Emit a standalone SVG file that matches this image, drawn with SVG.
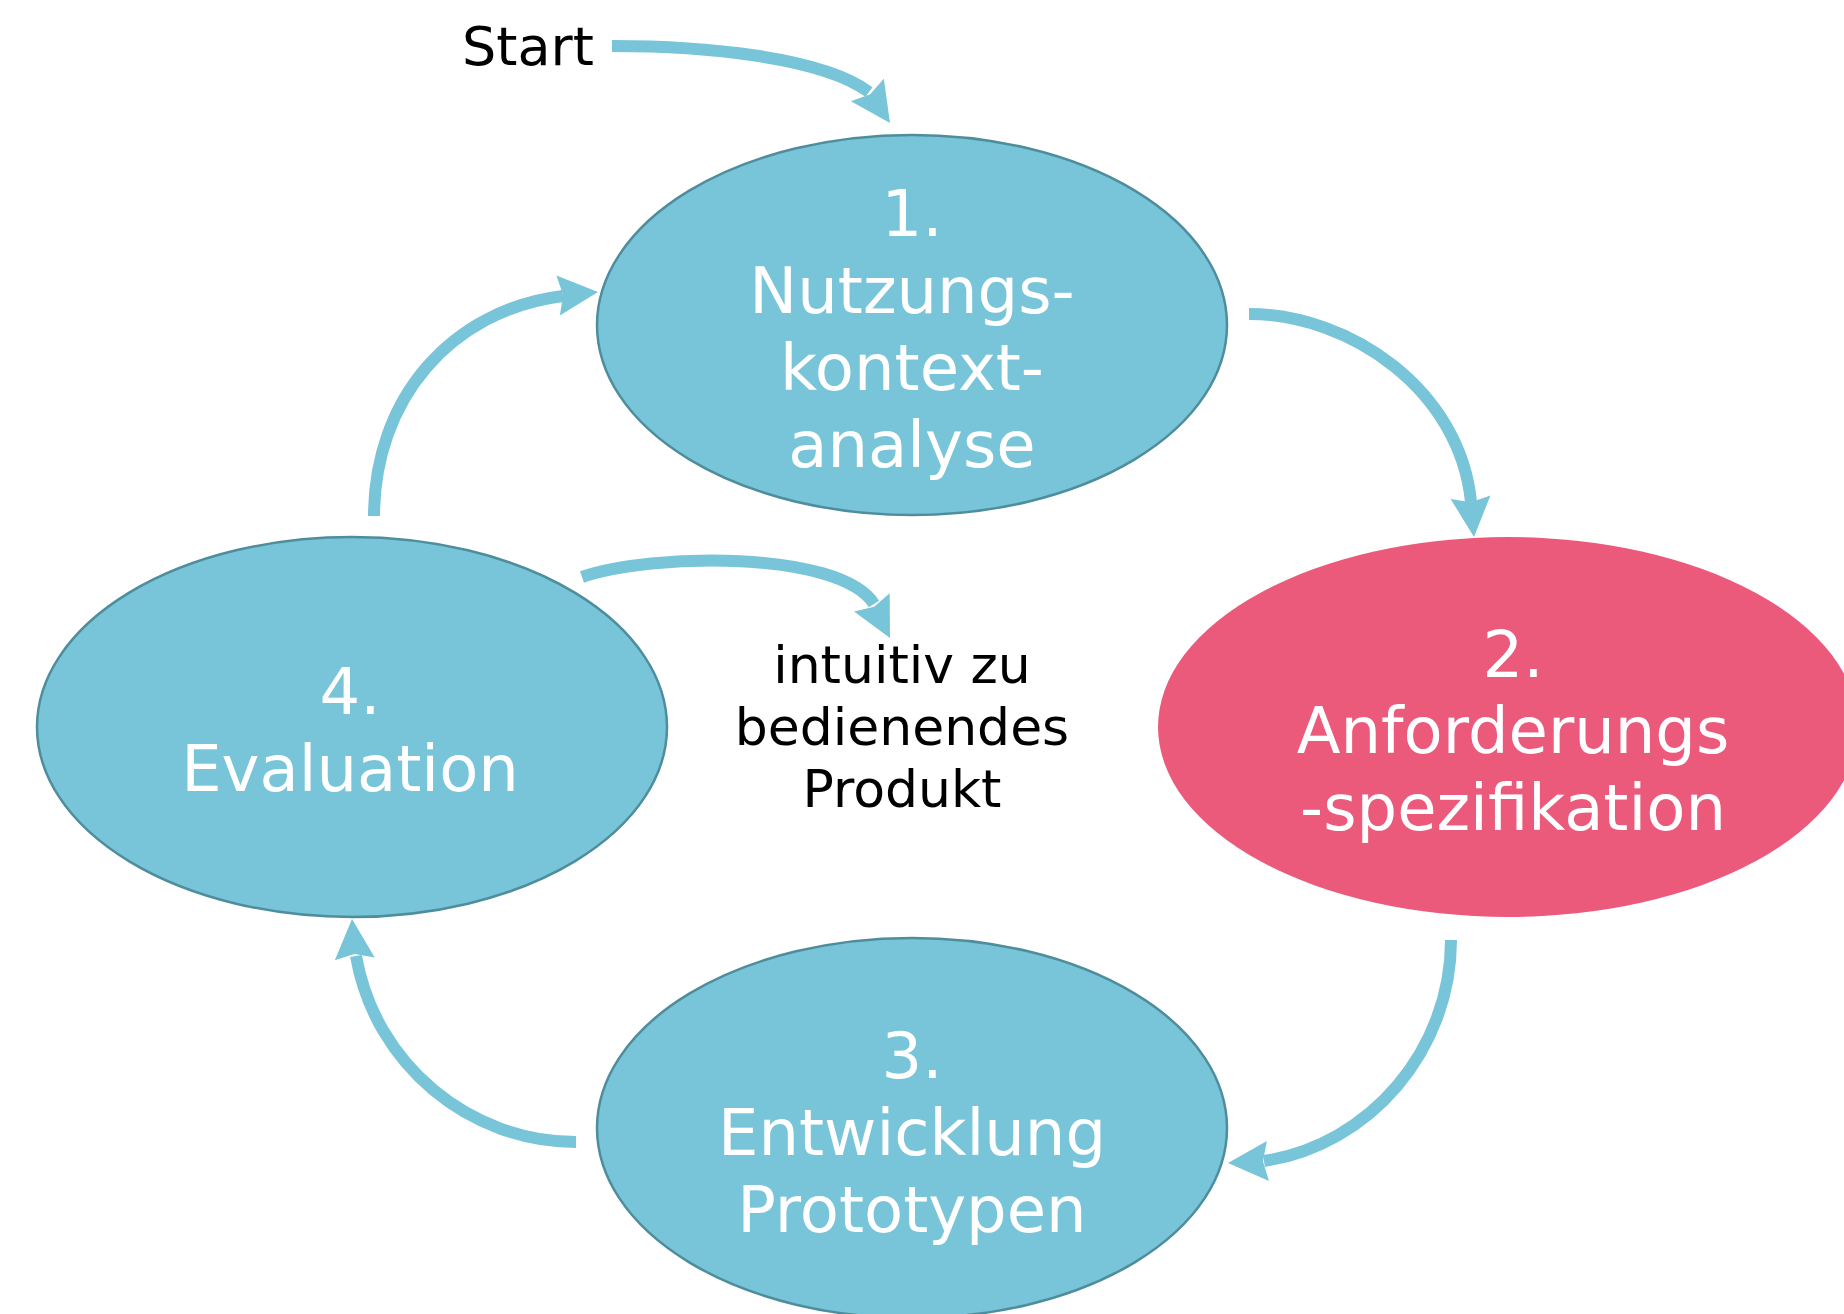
<svg xmlns="http://www.w3.org/2000/svg" xmlns:xlink="http://www.w3.org/1999/xlink" width="1844" height="1314" viewBox="0 0 1844 1314">
  <style>
    .node { fill: #78C4D8; stroke: #4E8D9C; stroke-width: 2.5; }
    .node.hot { fill: #EB5A7B; stroke: none; }
    .ntext { font-family: "DejaVu Sans", Verdana, sans-serif; font-size: 64px; fill: #FFFFFF; text-anchor: middle; }
    .label { font-family: "DejaVu Sans", Verdana, sans-serif; fill: #000000; text-anchor: middle; }
    .edge { fill: none; stroke: #78C4D8; stroke-width: 12; stroke-linecap: butt; }
    .head { fill: #78C4D8; }
  </style>
  <defs>
    <!-- arrowhead, tip at origin pointing along +x -->
    <path id="head" d="M0,0 L-40,-20 L-35,0 L-40,20 Z"/>
  </defs>
  <rect width="1844" height="1314" fill="#FFFFFF"/>

  <g id="connectors">
    <!-- Start -> 1 -->
    <path class="edge" d="M612,46 C700,46 820,56 869,92"/>
    <use class="head" xlink:href="#head" transform="translate(890,123) rotate(55.5)"/>
    <!-- 1 -> 2 -->
    <path class="edge" d="M1249,314 C1350,314 1460,390 1471,502"/>
    <use class="head" xlink:href="#head" transform="translate(1474,537) rotate(85)"/>
    <!-- 2 -> 3 -->
    <path class="edge" d="M1451,940 C1451,1050 1370,1145 1264,1161"/>
    <use class="head" xlink:href="#head" transform="translate(1228,1163) rotate(177)"/>
    <!-- 3 -> 4 -->
    <path class="edge" d="M576,1142 C470,1142 375,1065 356,956"/>
    <use class="head" xlink:href="#head" transform="translate(352,919) rotate(-94)"/>
    <!-- 4 -> 1 -->
    <path class="edge" d="M374,516 C374,400 450,310 563,296"/>
    <use class="head" xlink:href="#head" transform="translate(598,292) rotate(-5)"/>
    <!-- 4 -> product -->
    <path class="edge" d="M582,577 C650,553 840,550 874,604"/>
    <use class="head" xlink:href="#head" transform="translate(890,638) rotate(63)"/>
  </g>

  <g id="start">
    <text class="label" x="528" y="65" font-size="54">Start</text>
  </g>

  <g id="node1">
    <ellipse class="node" cx="912" cy="325" rx="315" ry="190"/>
    <text class="ntext" x="912" y="236">1.</text>
    <text class="ntext" x="912" y="313">Nutzungs-</text>
    <text class="ntext" x="912" y="390">kontext-</text>
    <text class="ntext" x="912" y="467">analyse</text>
  </g>

  <g id="node2">
    <ellipse class="node hot" cx="1508" cy="727" rx="350" ry="190"/>
    <text class="ntext" x="1513" y="677">2.</text>
    <text class="ntext" x="1513" y="753">Anforderungs</text>
    <text class="ntext" x="1513" y="830">-spezifikation</text>
  </g>

  <g id="node3">
    <ellipse class="node" cx="912" cy="1128" rx="315" ry="190"/>
    <text class="ntext" x="912" y="1078">3.</text>
    <text class="ntext" x="912" y="1155">Entwicklung</text>
    <text class="ntext" x="912" y="1232">Prototypen</text>
  </g>

  <g id="node4">
    <ellipse class="node" cx="352" cy="727" rx="315" ry="190"/>
    <text class="ntext" x="350" y="714">4.</text>
    <text class="ntext" x="350" y="791">Evaluation</text>
  </g>

  <g id="product">
    <text class="label" x="902" y="683" font-size="52">intuitiv zu</text>
    <text class="label" x="902" y="745" font-size="52">bedienendes</text>
    <text class="label" x="902" y="807" font-size="52">Produkt</text>
  </g>
</svg>
